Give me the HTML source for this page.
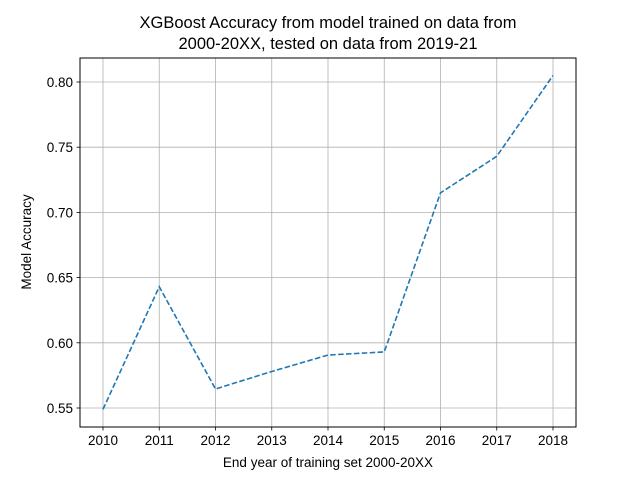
<!DOCTYPE html>
<html><head><meta charset="utf-8"><style>
html,body{margin:0;padding:0;background:#fff;}
svg{display:block;font-family:"Liberation Sans","DejaVu Sans",sans-serif;}
</style></head><body>
<svg id="chart" width="640" height="480" xmlns="http://www.w3.org/2000/svg">
<rect width="640" height="480" fill="#fff"/>
<text x="328" y="28" text-anchor="middle" font-size="16.5">XGBoost Accuracy from model trained on data from</text>
<text x="328" y="49" text-anchor="middle" font-size="16.5">2000-20XX, tested on data from 2019-21</text>
<g id="grid"></g>
<g id="ticks"></g>
<g id="series"></g>
<rect x="80" y="58" width="496" height="369" fill="none" stroke="#000" stroke-width="1"/>
<text x="328" y="467" text-anchor="middle" font-size="13.5">End year of training set 2000-20XX</text>
<text transform="translate(31,242) rotate(-90)" text-anchor="middle" font-size="13.5">Model Accuracy</text>
</svg>
<script>
const years = [2010,2011,2012,2013,2014,2015,2016,2017,2018];
const accuracy = [0.549,0.643,0.5646,0.578,0.5906,0.593,0.715,0.743,0.805];
const yTicks = [0.55,0.60,0.65,0.70,0.75,0.80];
const yTickLabels = ["0.55","0.60","0.65","0.70","0.75","0.80"];

const L=80,R=576,T=58,B=427;
const xMin=2009.6,xMax=2018.4,yMin=0.5354,yMax=0.8184;
function xs(v){return 103+(v-2010)*56.25;}
function ys(v){return 408-(v-0.55)*1304;}
const NS="http://www.w3.org/2000/svg";
function mk(tag,attrs,parent){const e=document.createElementNS(NS,tag);for(const k in attrs)e.setAttribute(k,attrs[k]);parent.appendChild(e);return e;}
const grid=document.getElementById('grid'),ticks=document.getElementById('ticks'),series=document.getElementById('series');
years.forEach(y=>{
  const x=xs(y);
  const g=mk('line',{x1:x,x2:x,y1:T,y2:B,stroke:'#b0b0b0','stroke-width':0.8},grid);
  
  
  const t=mk('line',{x1:x,x2:x,y1:B,y2:B+3.5,stroke:'#000','stroke-width':0.8},ticks);
  
  
  const l=mk('text',{x:x,y:B+18,'text-anchor':'middle','font-size':'13.5'},ticks);
  l.textContent=String(y);
  
  
});
yTicks.forEach((v,i)=>{
  const y=ys(v);
  const g=mk('line',{x1:L,x2:R,y1:y,y2:y,stroke:'#b0b0b0','stroke-width':0.8},grid);
  
  
  const t=mk('line',{x1:L-3.5,x2:L,y1:y,y2:y,stroke:'#000','stroke-width':0.8},ticks);
  
  
  const l=mk('text',{x:L-7,y:y+5,'text-anchor':'end','font-size':'13.5'},ticks);
  l.textContent=yTickLabels[i];
  
  
});
const pts=years.map((y,i)=>xs(y)+','+ys(accuracy[i])).join(' ');
const line=mk('polyline',{points:pts,fill:'none',stroke:'#1f77b4','stroke-width':1.6,'stroke-dasharray':'5.5,2.4'},series);


</script>
</body></html>
